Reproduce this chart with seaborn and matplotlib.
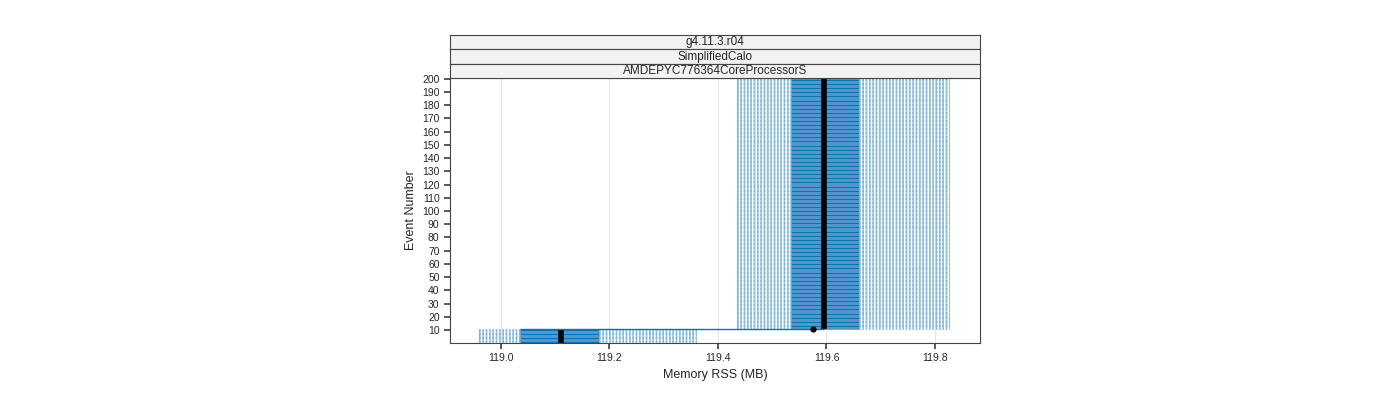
import numpy as np
import seaborn as sns
import matplotlib.pyplot as plt

# per-event box stats (Memory RSS, MB)
events = np.arange(1, 201)
low_events = 10
low_stats = [118.96, 119.035, 119.11, 119.18, 119.36]   # min, q1, med, q3, max
high_stats = [119.435, 119.535, 119.595, 119.66, 119.825]
outlier_event = [11]
outlier_value = [119.575]
strips = ["g4.11.3.r04", "SimplifiedCalo", "AMDEPYC776364CoreProcessorS"]

sns.set_theme(style="white", font="Liberation Sans")
fig = plt.figure(figsize=(14, 4), dpi=100)
ax = fig.add_axes([450 / 1400, 57 / 400, 530 / 1400, 265 / 400])

blue = "#0b72b5"
light = "#7fb6dc"
for ev in events:
    mn, q1, md, q3, mx = low_stats if ev <= low_events else high_stats
    ax.barh(ev, q3 - q1, left=q1, height=1.0, color=blue, edgecolor="#5fa0d0", linewidth=0.4)
    ax.hlines(ev, mn, q1, color=light, linestyle=(0, (1, 1)), linewidth=1.2)
    ax.hlines(ev, q3, mx, color=light, linestyle=(0, (1, 1)), linewidth=1.2)
    ax.vlines([mn, mx], ev - 0.5, ev + 0.5, color=light, linewidth=0.8)
    ax.vlines(md, ev - 0.5, ev + 0.5, color="black", linewidth=4)
ax.hlines(10.9, low_stats[1], high_stats[2], color=blue, linewidth=1)
ax.scatter(outlier_value, outlier_event, color="black", s=12, zorder=5)

ax.set_xlim(118.906, 119.883)
ax.set_ylim(0.2, 200.5)
ax.set_yticks(np.arange(10, 201, 10))
ax.set_xticks([119.0, 119.2, 119.4, 119.6, 119.8])
ax.grid(axis="x", color="#e6e6e6", linewidth=0.8)
ax.set_axisbelow(True)
ax.tick_params(axis="both", labelsize=7.5, length=4, color="#444444", direction="out",
               left=True, bottom=True, top=True, labeltop=False)
for s in ax.spines.values():
    s.set_color("#444444")
    s.set_linewidth(0.8)
ax.set_xlabel("Memory RSS (MB)", fontsize=9)
ax.set_ylabel("Event Number", fontsize=9)

for i, txt in enumerate(strips):
    y0 = (400 - 78 + i * 0 + 0) / 400
    sax = fig.add_axes([450 / 1400, (322 - 0) / 400 + (2 - i) * 14.5 / 400, 530 / 1400, 14.5 / 400])
    sax.set_facecolor("#f2f2f2")
    sax.set_xticks([]); sax.set_yticks([])
    for s in sax.spines.values():
        s.set_color("#444444"); s.set_linewidth(0.8)
    sax.text(0.5, 0.45, txt, ha="center", va="center", fontsize=8.5, transform=sax.transAxes)

fig.savefig("out.png")
